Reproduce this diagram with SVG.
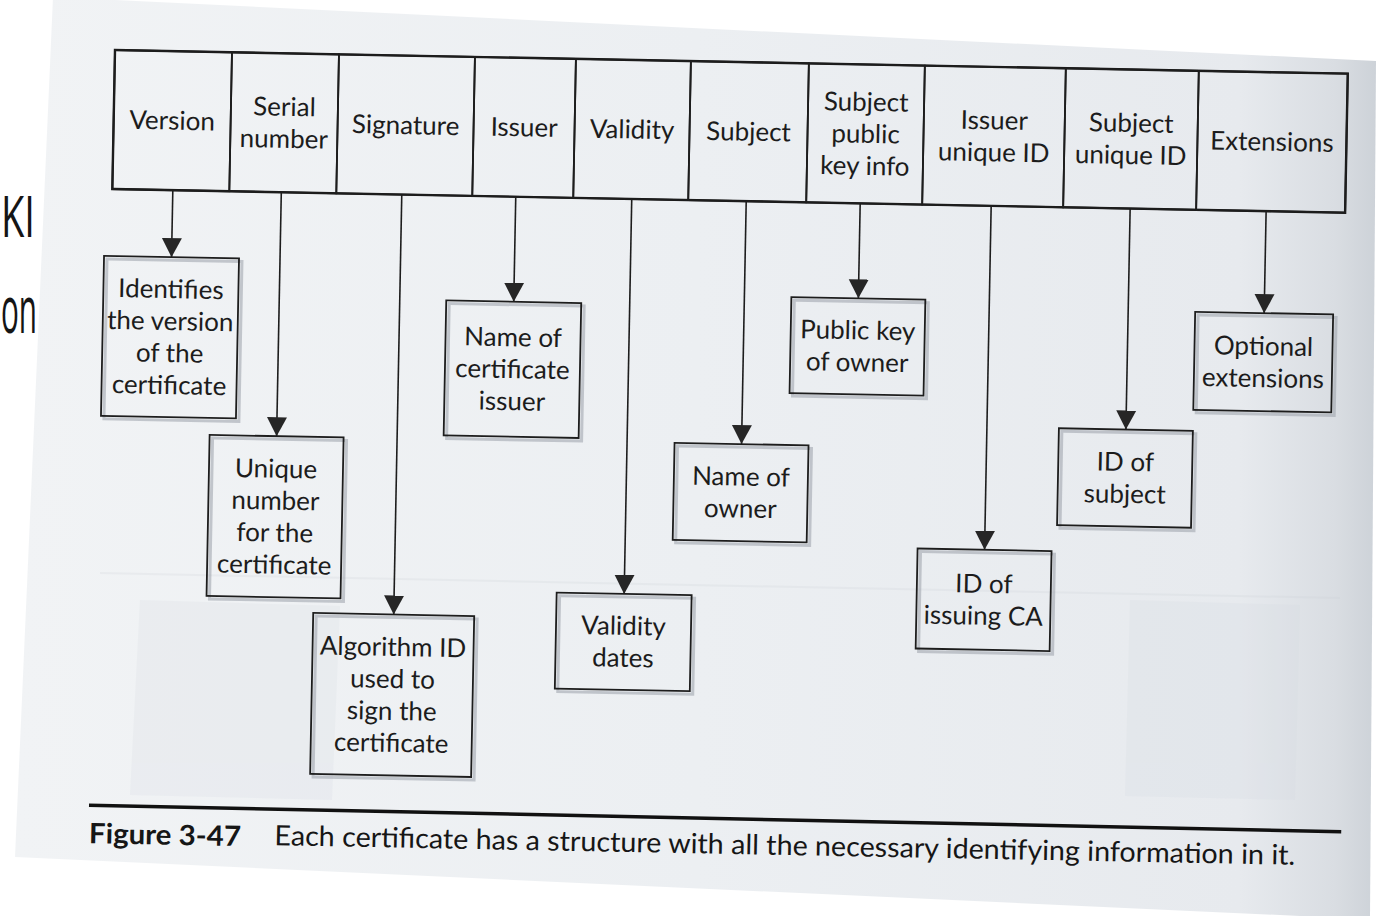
<svg xmlns="http://www.w3.org/2000/svg" width="1378" height="916" viewBox="0 0 1378 916">
<style>
.cell{fill:none;stroke:#1d1d1d;stroke-width:1.8}
.hdr{fill:none;stroke:#1a1a1a;stroke-width:2.4}
.box{fill:none;stroke:#1d1d1d;stroke-width:1.8}
.sh{fill:none;stroke:#9aa1a9;stroke-width:3;opacity:.55}
.t{font-family:Lato,"Open Sans","Liberation Sans",sans-serif;font-size:26px;fill:#1c1c1c;text-anchor:middle}
.conn{stroke:#1d1d1d;stroke-width:1.6;fill:none;marker-end:url(#ah)}
.side{font-family:"Open Sans","Liberation Sans",sans-serif;fill:#151515}
.cap{font-family:Lato,"Open Sans","Liberation Sans",sans-serif;font-size:28px;fill:#161616}
</style>
<defs>
<linearGradient id="pg" x1="0" y1="0" x2="1" y2="0">
<stop offset="0" stop-color="#f1f3f5"/>
<stop offset="0.5" stop-color="#eceff2"/>
<stop offset="0.9" stop-color="#e7eaee"/>
<stop offset="0.97" stop-color="#d9dde2"/>
<stop offset="1" stop-color="#cdd2d8"/>
</linearGradient>
<marker id="ah" markerUnits="userSpaceOnUse" markerWidth="20" markerHeight="22" viewBox="0 -11 20 22" refX="19" refY="0" orient="auto">
<path d="M0,-10 L19,0 L0,10 Z" fill="#262626"/>
</marker>
</defs>
<rect x="0" y="0" width="1378" height="916" fill="#ffffff"/>
<polygon points="53,-3 1376,61 1370,916 1300,916 15,857" fill="url(#pg)"/>
<g opacity="0.2">
<polygon points="140,600 340,606 332,800 130,795" fill="#d3d9e0"/>
<polygon points="1130,600 1300,605 1295,800 1125,796" fill="#d3d9e0"/>
<line x1="100" y1="573" x2="1340" y2="598" stroke="#c9ced4" stroke-width="2"/>
</g>
<text class="side" x="1" y="237" font-size="56" textLength="34" lengthAdjust="spacingAndGlyphs">KI</text>
<text class="side" x="1" y="333" font-size="66" textLength="36" lengthAdjust="spacingAndGlyphs">on</text>
<g transform="rotate(1.1 114 50)">
<g id="header">
<rect class="hdr" x="115" y="50" width="1233" height="139"/>
<g id="h-version"><rect class="cell" x="115" y="50" width="117" height="139"/><text class="t" x="173.5" y="128.5">Version</text></g>
<g id="h-serial"><rect class="cell" x="232" y="50" width="107" height="139"/><text class="t" x="285.5" y="112.5">Serial</text><text class="t" x="285.5" y="144.5">number</text></g>
<g id="h-signature"><rect class="cell" x="339" y="50" width="136" height="139"/><text class="t" x="407" y="128.5">Signature</text></g>
<g id="h-issuer"><rect class="cell" x="475" y="50" width="101" height="139"/><text class="t" x="525.5" y="128.5">Issuer</text></g>
<g id="h-validity"><rect class="cell" x="576" y="50" width="115" height="139"/><text class="t" x="633.5" y="128.5">Validity</text></g>
<g id="h-subject"><rect class="cell" x="691" y="50" width="118" height="139"/><text class="t" x="750" y="128.5">Subject</text></g>
<g id="h-spki"><rect class="cell" x="809" y="50" width="116" height="139"/><text class="t" x="867" y="96.5">Subject</text><text class="t" x="867" y="128.5">public</text><text class="t" x="867" y="160.5">key info</text></g>
<g id="h-issueruid"><rect class="cell" x="925" y="50" width="141" height="139"/><text class="t" x="995.5" y="112.5">Issuer</text><text class="t" x="995.5" y="144.5">unique ID</text></g>
<g id="h-subjectuid"><rect class="cell" x="1066" y="50" width="133" height="139"/><text class="t" x="1132.5" y="112.5">Subject</text><text class="t" x="1132.5" y="144.5">unique ID</text></g>
<g id="h-extensions"><rect class="cell" x="1199" y="50" width="149" height="139"/><text class="t" x="1273.5" y="128.5">Extensions</text></g>
</g>
<g id="connectors">
<line class="conn" x1="175.5" y1="189" x2="175.5" y2="256"/>
<line class="conn" x1="284" y1="189" x2="284" y2="433"/>
<line class="conn" x1="404.5" y1="189" x2="404.5" y2="609"/>
<line class="conn" x1="518.5" y1="189" x2="518.5" y2="294"/>
<line class="conn" x1="634.5" y1="189" x2="634.5" y2="584"/>
<line class="conn" x1="749" y1="189" x2="749" y2="432"/>
<line class="conn" x1="863" y1="189" x2="863" y2="284"/>
<line class="conn" x1="994" y1="189" x2="994" y2="533"/>
<line class="conn" x1="1133" y1="189" x2="1133" y2="410"/>
<line class="conn" x1="1269" y1="189" x2="1269" y2="291"/>
</g>
<g id="n-identifies"><rect class="sh" x="111" y="259" width="135" height="160"/><rect class="box" x="108" y="256" width="135" height="160"/>
<text class="t" x="175.5" y="297">Identifies</text><text class="t" x="175.5" y="329">the version</text><text class="t" x="175.5" y="361">of the</text><text class="t" x="175.5" y="393">certificate</text></g>
<g id="n-unique"><rect class="sh" x="220" y="436" width="134" height="161"/><rect class="box" x="217" y="433" width="134" height="161"/>
<text class="t" x="284" y="474.5">Unique</text><text class="t" x="284" y="506.5">number</text><text class="t" x="284" y="538.5">for the</text><text class="t" x="284" y="570.5">certificate</text></g>
<g id="n-algorithm"><rect class="sh" x="327" y="612" width="161" height="161"/><rect class="box" x="324" y="609" width="161" height="161"/>
<text class="t" x="404.5" y="650.5">Algorithm ID</text><text class="t" x="404.5" y="682.5">used to</text><text class="t" x="404.5" y="714.5">sign the</text><text class="t" x="404.5" y="746.5">certificate</text></g>
<g id="n-issuername"><rect class="sh" x="454" y="297" width="135" height="135"/><rect class="box" x="451" y="294" width="135" height="135"/>
<text class="t" x="518.5" y="338.5">Name of</text><text class="t" x="518.5" y="370.5">certificate</text><text class="t" x="518.5" y="402.5">issuer</text></g>
<g id="n-validity"><rect class="sh" x="570" y="587" width="135" height="96"/><rect class="box" x="567" y="584" width="135" height="96"/>
<text class="t" x="634.5" y="625">Validity</text><text class="t" x="634.5" y="657">dates</text></g>
<g id="n-owner"><rect class="sh" x="685" y="435" width="134" height="97"/><rect class="box" x="682" y="432" width="134" height="97"/>
<text class="t" x="749" y="473.5">Name of</text><text class="t" x="749" y="505.5">owner</text></g>
<g id="n-pubkey"><rect class="sh" x="799" y="287" width="134" height="96"/><rect class="box" x="796" y="284" width="134" height="96"/>
<text class="t" x="863" y="325">Public key</text><text class="t" x="863" y="357">of owner</text></g>
<g id="n-issuingca"><rect class="sh" x="930" y="536" width="134" height="100"/><rect class="box" x="927" y="533" width="134" height="100"/>
<text class="t" x="994" y="576">ID of</text><text class="t" x="994" y="608">issuing CA</text></g>
<g id="n-idsubject"><rect class="sh" x="1069" y="413" width="134" height="97"/><rect class="box" x="1066" y="410" width="134" height="97"/>
<text class="t" x="1133" y="451.5">ID of</text><text class="t" x="1133" y="483.5">subject</text></g>
<g id="n-optional"><rect class="sh" x="1203" y="294" width="138" height="98"/><rect class="box" x="1200" y="291" width="138" height="98"/>
<text class="t" x="1269" y="333">Optional</text><text class="t" x="1269" y="365">extensions</text></g>
<g id="caption">
<line x1="103.5" y1="805.5" x2="1356" y2="808" stroke="#111" stroke-width="3.5"/>
<text class="cap" x="104" y="843.5" font-weight="bold" textLength="152" lengthAdjust="spacingAndGlyphs">Figure 3-47</text>
<text class="cap" x="289.5" y="842" textLength="1021" lengthAdjust="spacingAndGlyphs">Each certificate has a structure with all the necessary identifying information in it.</text>
</g>
</g>
</svg>
